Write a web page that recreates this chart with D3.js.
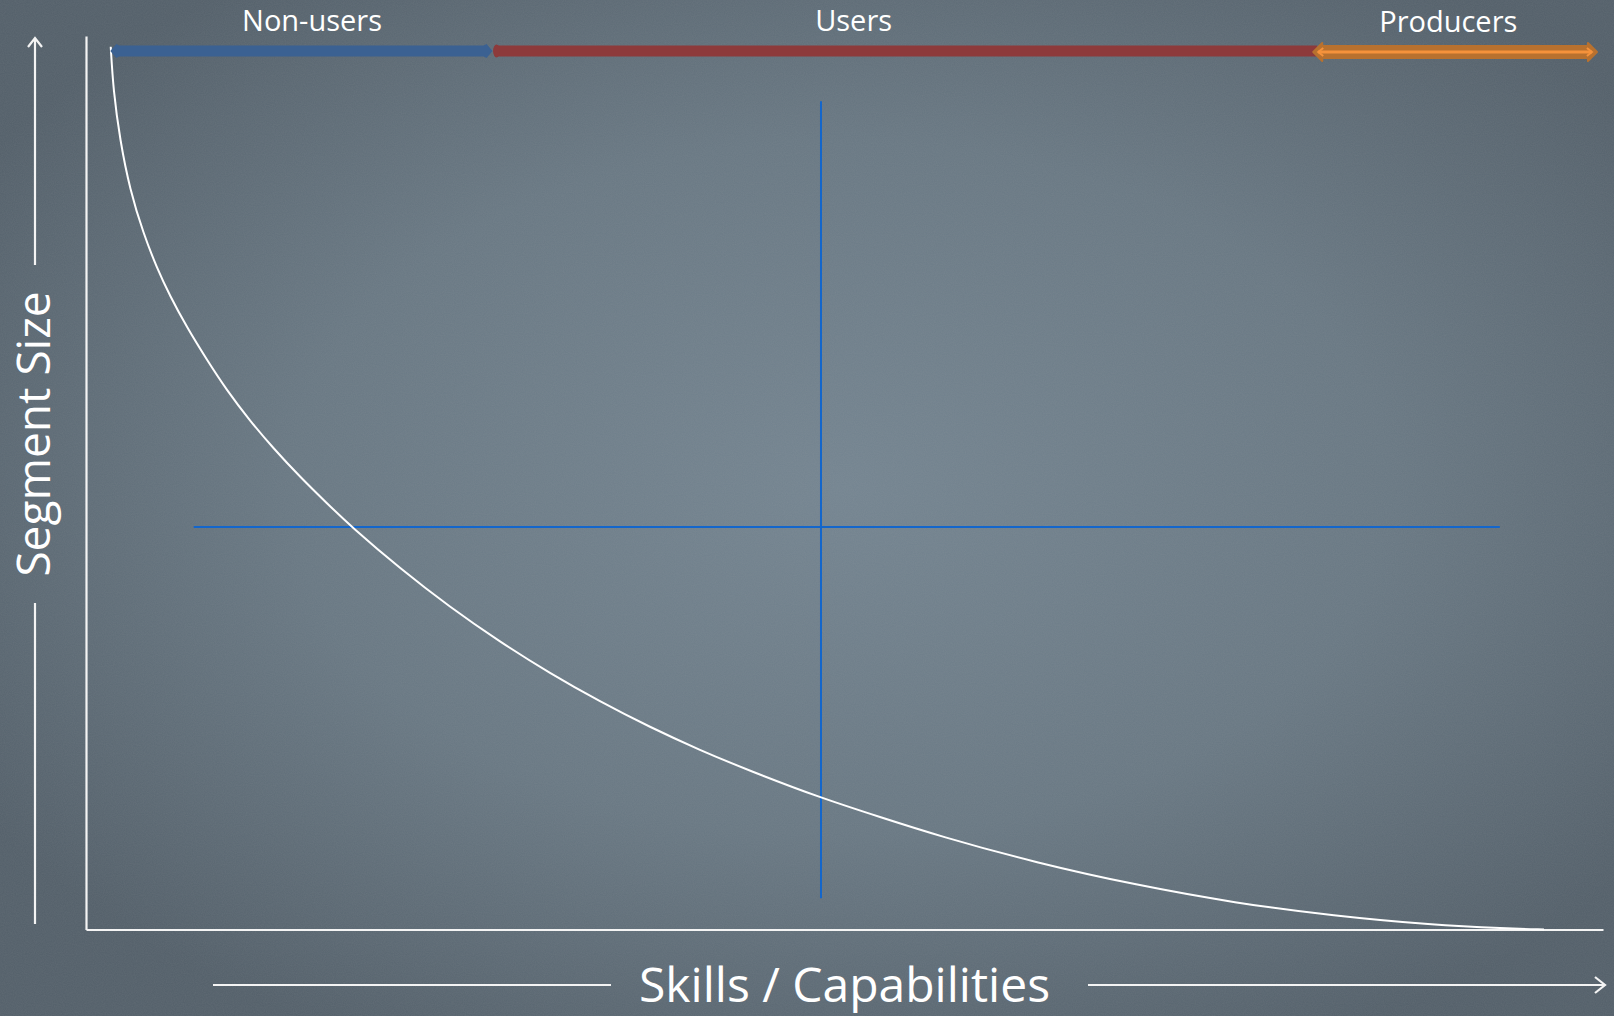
<!DOCTYPE html>
<html>
<head>
<meta charset="utf-8">
<script src="https://cdn.jsdelivr.net/npm/d3@7"></script>
<style>
  html, body { margin: 0; padding: 0; overflow: hidden; background: #5e6b75; }
  svg { display: block; }
  text { font-family: "Open Sans", "Noto Sans", sans-serif; fill: #ffffff; }
</style>
</head>
<body>
<svg id="chart" width="1614" height="1016"></svg>
<script>
// ---- data (chart units: 0..100 on both axes) ----
const curveX = [1.63, 1.80, 2.24, 2.90, 3.78, 4.66, 5.54, 6.64, 7.96, 9.27, 10.81, 12.35, 14.11, 15.87, 17.51,
                20.70, 23.99, 27.29, 30.59, 33.88, 37.18, 40.47, 43.77, 48.45,
                52.34, 56.23, 62.69, 69.22, 75.74, 82.27, 88.73, 93.61, 96.11];
const curveY = [98.80, 93.96, 88.36, 82.76, 77.92, 74.09, 70.89, 67.43, 63.78, 60.38, 56.93, 53.86, 50.65, 47.72, 45.05,
                40.41, 36.08, 32.19, 28.67, 25.51, 22.64, 20.07, 17.75, 14.72,
                12.59, 10.46, 7.44, 4.98, 2.97, 1.51, 0.50, 0.11, 0.00];

const segmentNames = ["Non-users", "Users", "Producers"];
const segmentStart = [1.6, 26.8, 80.9];
const segmentEnd   = [26.8, 80.9, 99.6];
const segmentLabelX = [14.9, 50.6, 89.8];

const crossX = 48.45;           // vertical guide position
const crossY = 45.05;           // horizontal guide position
const crossXExtent = [7.1, 93.2];
const crossYExtent = [3.5, 92.7];

const xTitle = "Skills / Capabilities";
const yTitle = "Segment Size";

// ---- setup ----
const W = 1614, H = 1016;
const svg = d3.select("#chart");
const x = d3.scaleLinear().domain([0, 100]).range([86, 1603]);
const y = d3.scaleLinear().domain([0, 100]).range([929.5, 36]);

const defs = svg.append("defs");
const rg = defs.append("radialGradient").attr("id", "bg")
  .attr("cx", "52%").attr("cy", "48%").attr("r", "62%");
rg.append("stop").attr("offset", "0%").attr("stop-color", "#768692");
rg.append("stop").attr("offset", "55%").attr("stop-color", "#6b7a85");
rg.append("stop").attr("offset", "100%").attr("stop-color", "#56626c");

const noise = defs.append("filter").attr("id", "noise").attr("x", 0).attr("y", 0).attr("width", "100%").attr("height", "100%");
noise.append("feTurbulence").attr("type", "fractalNoise").attr("baseFrequency", 0.9).attr("numOctaves", 2).attr("seed", 3);
noise.append("feColorMatrix").attr("type", "matrix")
  .attr("values", "0 0 0 0 0.5  0 0 0 0 0.5  0 0 0 0 0.5  0 0 0 0.9 -0.2");

svg.append("rect").attr("width", W).attr("height", H).attr("fill", "url(#bg)");
svg.append("rect").attr("width", W).attr("height", H).attr("filter", "url(#noise)").attr("opacity", 0.12);

// ---- crosshair guides ----
const blue = "#1366cc";
svg.append("line")
  .attr("x1", x(crossXExtent[0])).attr("x2", x(crossXExtent[1]))
  .attr("y1", y(crossY)).attr("y2", y(crossY))
  .attr("stroke", blue).attr("stroke-width", 2);
svg.append("line")
  .attr("x1", x(crossX)).attr("x2", x(crossX))
  .attr("y1", y(crossYExtent[1])).attr("y2", y(crossYExtent[0]))
  .attr("stroke", blue).attr("stroke-width", 2);

// ---- axes ----
const xAxis = svg.append("g").attr("transform", `translate(0,${y(0)})`)
  .call(d3.axisBottom(x).ticks(0).tickSizeOuter(0));
const yAxis = svg.append("g").attr("transform", `translate(${x(0)},0)`)
  .call(d3.axisLeft(y).ticks(0).tickSizeOuter(0));
[xAxis, yAxis].forEach(g => {
  g.select(".domain").attr("stroke", "#f4f4f4").attr("stroke-width", 2.2);
  g.selectAll(".tick").remove();
});

// ---- curve ----
const pts = curveX.map((v, i) => [v, curveY[i]]);
svg.append("path")
  .datum(pts)
  .attr("fill", "none")
  .attr("stroke", "#ffffff")
  .attr("stroke-width", 2)
  .attr("d", d3.line().x(d => x(d[0])).y(d => y(d[1])).curve(d3.curveBasis));

// ---- segment bars ----
const barY = [51, 51, 52];
// Non-users (blue)
(function () {
  const x0 = x(segmentStart[0]), x1 = x(segmentEnd[0]), yc = barY[0];
  const p = d3.path();
  p.moveTo(x0, yc); p.lineTo(x0 + 6, yc - 7); p.lineTo(x0 + 9, yc - 5.5);
  p.lineTo(x1 - 9, yc - 5.5); p.lineTo(x1 - 6, yc - 7); p.lineTo(x1, yc);
  p.lineTo(x1 - 6, yc + 7); p.lineTo(x1 - 9, yc + 5.5);
  p.lineTo(x0 + 9, yc + 5.5); p.lineTo(x0 + 6, yc + 7); p.closePath();
  svg.append("path").attr("d", p.toString()).attr("fill", "#3b6192");
})();
// Users (red)
(function () {
  const x0 = x(segmentStart[1]) + 1, x1 = x(segmentEnd[1]), yc = barY[1];
  svg.append("line").attr("x1", x0 + 2).attr("x2", x1 + 4).attr("y1", yc).attr("y2", yc)
    .attr("stroke", "#8d3a3b").attr("stroke-width", 11);
  svg.append("ellipse").attr("cx", x0 + 3).attr("cy", yc).attr("rx", 3.5).attr("ry", 6.5).attr("fill", "#8d3a3b");
})();
// Producers (orange double arrow)
(function () {
  const x0 = x(segmentStart[2]), x1 = x(segmentEnd[2]), yc = barY[2];
  const p = d3.path();
  p.moveTo(x0, yc); p.lineTo(x0 + 9, yc - 9); p.lineTo(x0 + 9, yc - 6);
  p.lineTo(x1 - 9, yc - 6); p.lineTo(x1 - 9, yc - 9); p.lineTo(x1, yc);
  p.lineTo(x1 - 9, yc + 9); p.lineTo(x1 - 9, yc + 6);
  p.lineTo(x0 + 9, yc + 6); p.lineTo(x0 + 9, yc + 9); p.closePath();
  svg.append("path").attr("d", p.toString()).attr("fill", "#b8712f")
    .attr("stroke", "#b8712f").attr("stroke-width", 2).attr("stroke-linejoin", "round");
  svg.append("line").attr("x1", x0 + 5).attr("x2", x1 - 5).attr("y1", yc).attr("y2", yc)
    .attr("stroke", "#f5923b").attr("stroke-width", 3);
  const q = d3.path();
  q.moveTo(x0 + 10, yc - 4); q.lineTo(x0 + 5, yc); q.lineTo(x0 + 10, yc + 4);
  q.moveTo(x1 - 10, yc - 4); q.lineTo(x1 - 5, yc); q.lineTo(x1 - 10, yc + 4);
  svg.append("path").attr("d", q.toString()).attr("fill", "none").attr("stroke", "#f5923b").attr("stroke-width", 2);
})();

// segment labels
const labelBase = [31, 31, 32];
svg.selectAll("text.seg").data(segmentNames).join("text")
  .attr("class", "seg")
  .attr("x", (d, i) => x(segmentLabelX[i]))
  .attr("y", (d, i) => labelBase[i])
  .attr("text-anchor", "middle")
  .attr("font-size", 29)
  .text(d => d);

// ---- axis title arrows ----
const arrowStroke = "#f4f4f4";
// y arrow
svg.append("path")
  .attr("d", "M35,38 L35,265 M35,603 L35,924 M28,47 L35,38 L42,47")
  .attr("fill", "none").attr("stroke", arrowStroke).attr("stroke-width", 2.2);
// x arrow
svg.append("path")
  .attr("d", "M213,985 L611,985 M1088,985 L1605,985 M1595,977 L1605,985 L1595,993")
  .attr("fill", "none").attr("stroke", arrowStroke).attr("stroke-width", 2.2);

svg.append("text")
  .attr("x", 844.5).attr("y", 1002)
  .attr("text-anchor", "middle").attr("font-size", 48)
  .text(xTitle);
svg.append("text")
  .attr("transform", "translate(50,434) rotate(-90)")
  .attr("text-anchor", "middle").attr("font-size", 46)
  .text(yTitle);
</script>
</body>
</html>
